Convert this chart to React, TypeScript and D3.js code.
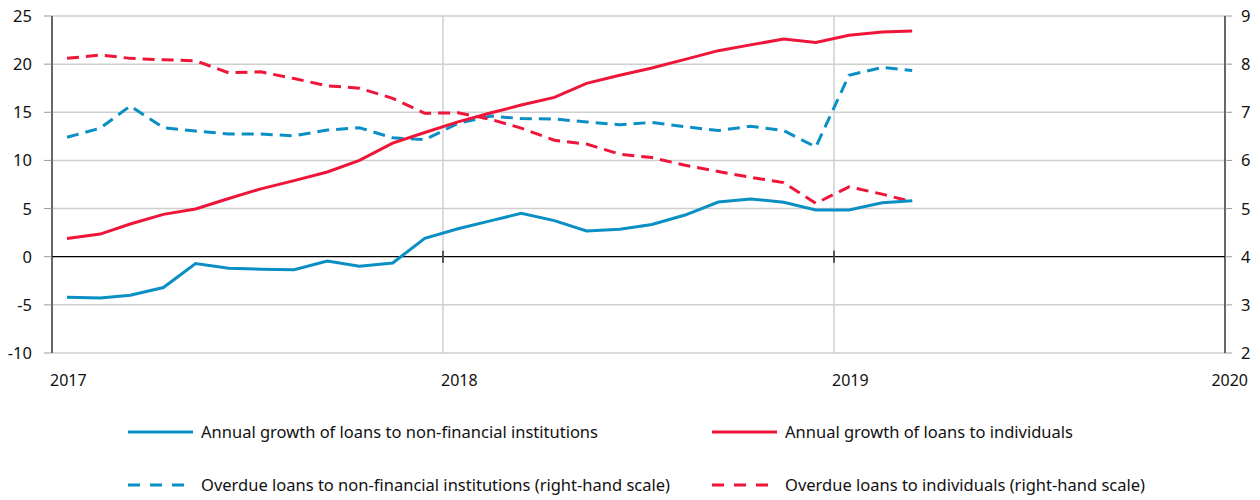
import React from "react";
import * as d3 from "d3";

// monthly observations, Jan 2017 .. Mar 2019
const months = d3.range(27).map((i) => new Date(2017, i, 15));

const growthNonFin = [
  -4.2, -4.3, -4.0, -3.2, -0.7, -1.2, -1.3, -1.35, -0.45, -1.0, -0.65, 1.9,
  2.9, 3.75, 4.5, 3.75, 2.67, 2.85, 3.35, 4.33, 5.68, 6.0, 5.65, 4.85,
  4.85, 5.6, 5.8,
];
const growthIndiv = [
  1.9, 2.35, 3.4, 4.4, 4.95, 6.05, 7.05, 7.9, 8.8, 10.0, 11.8, 12.9,
  14.0, 14.95, 15.75, 16.55, 18.0, 18.85, 19.6, 20.5, 21.4, 22.0, 22.6, 22.25,
  23.0, 23.35, 23.45,
];
const overdueNonFin = [
  6.48, 6.67, 7.13, 6.68, 6.61, 6.55, 6.55, 6.51, 6.63, 6.68, 6.47, 6.43,
  6.77, 6.92, 6.87, 6.86, 6.8, 6.74, 6.79, 6.7, 6.62, 6.71, 6.62, 6.28,
  7.77, 7.93, 7.87,
];
const overdueIndiv = [
  8.12, 8.19, 8.12, 8.09, 8.07, 7.82, 7.84, 7.7, 7.55, 7.5, 7.29, 6.98,
  6.99, 6.85, 6.67, 6.42, 6.34, 6.13, 6.06, 5.9, 5.77, 5.65, 5.54, 5.11,
  5.45, 5.3, 5.14,
];

const leftTicks = [-10, -5, 0, 5, 10, 15, 20, 25];
const rightTicks = [2, 3, 4, 5, 6, 7, 8, 9];
const years = [2017, 2018, 2019, 2020];

const legendItems = [
  { label: "Annual growth of loans to non-financial institutions", color: "#0a8fc4", dashed: false },
  { label: "Annual growth of loans to individuals", color: "#ee1539", dashed: false },
  { label: "Overdue loans to non-financial institutions (right-hand scale)", color: "#0a8fc4", dashed: true },
  { label: "Overdue loans to individuals (right-hand scale)", color: "#ee1539", dashed: true },
];

const BLUE = "#0a8fc4";
const RED = "#ee1539";
const FONT = "'Noto Sans', sans-serif";

export default function App() {
  const left = 52, right = 1225, top = 16, bottom = 353;

  const x = d3.scaleTime()
    .domain([new Date(2017, 0, 1), new Date(2020, 0, 1)])
    .range([left, right]);
  const yL = d3.scaleLinear().domain([-10, 25]).range([bottom, top]);
  const yR = d3.scaleLinear().domain([2, 9]).range([bottom, top]);

  const lineL = (vals: number[]) =>
    d3.line<number>().x((_, i) => x(months[i])).y((d) => yL(d))(vals) as string;
  const lineR = (vals: number[]) =>
    d3.line<number>().x((_, i) => x(months[i])).y((d) => yR(d))(vals) as string;

  const y0 = yL(0);

  return (
    <svg width={1260} height={500} style={{ position: "absolute", left: 0, top: 0 }} fontFamily={FONT}>
      {/* horizontal gridlines */}
      {leftTicks.map((t) => (
        <line key={"g" + t} x1={left} x2={right} y1={yL(t)} y2={yL(t)}
          stroke={t === 0 ? "#000" : "#cfcfcf"} strokeWidth={t === 0 ? 1.2 : 1.5} />
      ))}
      {/* vertical gridlines */}
      {years.slice(1, 3).map((yr) => (
        <line key={"v" + yr} x1={x(new Date(yr, 0, 1))} x2={x(new Date(yr, 0, 1))}
          y1={top} y2={bottom} stroke="#cfcfcf" strokeWidth={1.5} />
      ))}
      {/* ticks on zero line */}
      {years.slice(1, 3).map((yr) => (
        <line key={"zt" + yr} x1={x(new Date(yr, 0, 1))} x2={x(new Date(yr, 0, 1))}
          y1={y0 - 6} y2={y0 + 6} stroke="#000" strokeWidth={1.2} />
      ))}
      {/* axes */}
      <line x1={left} x2={left} y1={top} y2={bottom} stroke="#000" strokeWidth={1.2} />
      <line x1={right} x2={right} y1={top} y2={bottom} stroke="#000" strokeWidth={1.2} />
      {leftTicks.map((t) => (
        <g key={"lt" + t}>
          <line x1={left - 8} x2={left} y1={yL(t)} y2={yL(t)} stroke="#999" strokeWidth={1} />
          <text x={32} y={yL(t) + 6} textAnchor="end" fontSize={16.5} fill="#111">{t}</text>
        </g>
      ))}
      {rightTicks.map((t) => (
        <g key={"rt" + t}>
          <line x1={right} x2={right + 7} y1={yR(t)} y2={yR(t)} stroke="#999" strokeWidth={1} />
          <text x={1241} y={yR(t) + 6} textAnchor="start" fontSize={16.5} fill="#111">{t}</text>
        </g>
      ))}
      {years.map((yr) => {
        const px = x(new Date(yr, 0, 1));
        return (
          <text key={"y" + yr} x={yr === 2020 ? px + 23 : px - 2} y={386}
            textAnchor={yr === 2020 ? "end" : "start"} fontSize={16} fill="#111">{yr}</text>
        );
      })}

      {/* series */}
      <path d={lineR(overdueNonFin)} fill="none" stroke={BLUE} strokeWidth={3} strokeDasharray="12,7" />
      <path d={lineR(overdueIndiv)} fill="none" stroke={RED} strokeWidth={3} strokeDasharray="12,7" />
      <path d={lineL(growthNonFin)} fill="none" stroke={BLUE} strokeWidth={3} />
      <path d={lineL(growthIndiv)} fill="none" stroke={RED} strokeWidth={3} />

      {/* legend */}
      {legendItems.map((item, i) => {
        const lx = i % 2 === 0 ? 128 : 712;
        const ly = i < 2 ? 432 : 485;
        return (
          <g key={"lg" + i}>
            <line x1={lx} x2={lx + 65} y1={ly} y2={ly} stroke={item.color} strokeWidth={3}
              strokeDasharray={item.dashed ? "12,10" : undefined} />
            <text x={lx + 73} y={ly + 6} fontSize={16.5} fill="#111">{item.label}</text>
          </g>
        );
      })}
    </svg>
  );
}
